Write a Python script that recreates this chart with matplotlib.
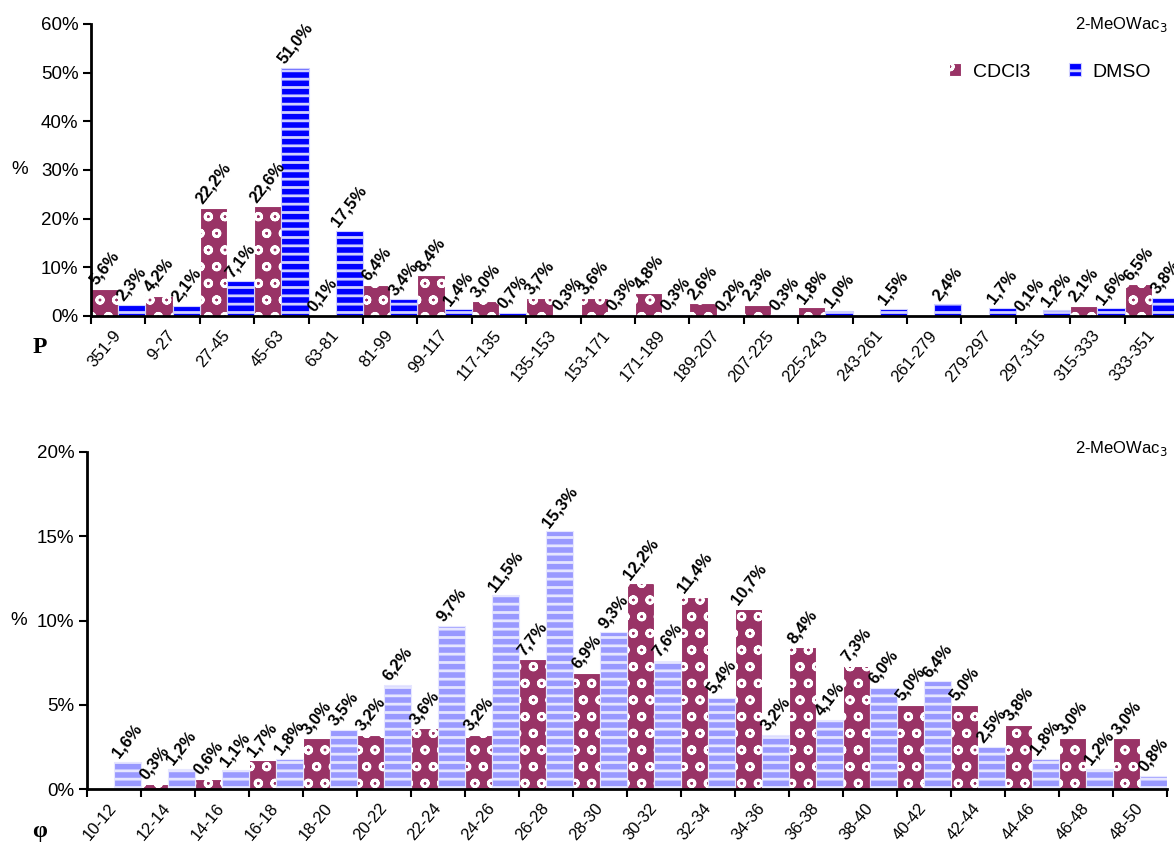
import numpy as np
import matplotlib.pyplot as plt

plt.rcParams['font.family'] = ['Liberation Sans', 'DejaVu Sans']
plt.rcParams['hatch.linewidth'] = 2.0

p_labels = ["351-9", "9-27", "27-45", "45-63", "63-81", "81-99", "99-117",
            "117-135", "135-153", "153-171", "171-189", "189-207", "207-225",
            "225-243", "243-261", "261-279", "279-297", "297-315", "315-333",
            "333-351"]
p_cdcl3 = [5.6, 4.2, 22.2, 22.6, 0.1, 6.4, 8.4, 3.0, 3.7, 3.6, 4.8, 2.6, 2.3,
           1.8, np.nan, np.nan, np.nan, 0.1, 2.1, 6.5]
p_dmso = [2.3, 2.1, 7.1, 51.0, 17.5, 3.4, 1.4, 0.7, 0.3, 0.3, 0.3, 0.2, 0.3,
          1.0, 1.5, 2.4, 1.7, 1.2, 1.6, 3.8]

phi_labels = ["10-12", "12-14", "14-16", "16-18", "18-20", "20-22", "22-24",
              "24-26", "26-28", "28-30", "30-32", "32-34", "34-36", "36-38",
              "38-40", "40-42", "42-44", "44-46", "46-48", "48-50"]
phi_cdcl3 = [np.nan, 0.3, 0.6, 1.7, 3.0, 3.2, 3.6, 3.2, 7.7, 6.9, 12.2, 11.4,
             10.7, 8.4, 7.3, 5.0, 5.0, 3.8, 3.0, 3.0]
phi_dmso = [1.6, 1.2, 1.1, 1.8, 3.5, 6.2, 9.7, 11.5, 15.3, 9.3, 7.6, 5.4, 3.2,
            4.1, 6.0, 6.4, 2.5, 1.8, 1.2, 0.8]

MAROON = '#993366'
W, H = 1174, 857


def fmt(v):
    return f"{v:.1f}".replace('.', ',') + '%'


def draw(ax, labels, cdcl3, dmso, dmso_color, stripe_color, ymax, ystep, ylab_x):
    n = len(labels)
    x = np.arange(n)
    bc = ax.bar(x + 0.25, cdcl3, width=0.5, color=MAROON, edgecolor='white',
                hatch='o', linewidth=0.8, label='CDCl3')
    bd = ax.bar(x + 0.75, dmso, width=0.5, color=dmso_color,
                edgecolor=stripe_color, hatch='--', linewidth=0.8, label='DMSO')
    for xs, vals in ((x + 0.25, cdcl3), (x + 0.75, dmso)):
        for xi, v in zip(xs, vals):
            if np.isnan(v):
                continue
            ax.text(xi, v + ymax * 0.004, fmt(v), rotation=52, ha='center',
                    va='bottom', fontsize=12, fontweight='bold')
    ax.set_xlim(0, n)
    ax.set_ylim(0, ymax)
    yt = np.arange(0, ymax + 0.01, ystep)
    ax.set_yticks(yt, [f"{t:.0f}%" for t in yt], fontsize=13.5)
    ax.set_xticks(np.arange(n + 1), [''] * (n + 1))
    ax.set_xticks(x + 0.5, labels, minor=True, rotation=50, ha='right',
                  va='center', rotation_mode='anchor', fontsize=12)
    ax.tick_params(axis='x', which='minor', length=0, pad=12)
    ax.tick_params(axis='both', which='major', length=6, width=1.5,
                   direction='out', pad=3)
    for s in ('top', 'right'):
        ax.spines[s].set_visible(False)
    for s in ('left', 'bottom'):
        ax.spines[s].set_linewidth(2)
    ax.set_ylabel('%', rotation=0, fontsize=13.5, va='center', ha='center')
    ax.yaxis.set_label_coords(ylab_x, 0.5)
    return bc, bd


fig = plt.figure(figsize=(W / 100, H / 100), dpi=100)

ax1 = fig.add_axes([91 / W, 1 - 316 / H, 1088 / W, 292 / H])
h1 = draw(ax1, p_labels, p_cdcl3, p_dmso, '#0000FF', '#d0d0ff', 60, 10,
          (20 - 91) / 1088)
ax1.legend(handles=list(h1), loc='center', bbox_to_anchor=(1050 / W, 1 - 72 / H),
           bbox_transform=fig.transFigure, ncol=2, frameon=False, fontsize=14,
           handlelength=0.6, handleheight=0.6, handletextpad=0.6,
           columnspacing=2.0)
fig.text(1168 / W, 1 - 25 / H, '2-MeOWac$_3$', ha='right', va='center',
         fontsize=12)
fig.text(40 / W, 1 - 347 / H, 'P', ha='center', va='center', fontsize=17,
         fontweight='bold', family=['Liberation Serif', 'DejaVu Serif'])

ax2 = fig.add_axes([87 / W, 1 - 789 / H, 1080 / W, 337 / H])
draw(ax2, phi_labels, phi_cdcl3, phi_dmso, '#9999FF', '#e6e6ff', 20, 5,
     (19 - 87) / 1080)
fig.text(1168 / W, 1 - 449 / H, '2-MeOWac$_3$', ha='right', va='center',
         fontsize=12)
fig.text(40 / W, 1 - 832 / H, 'φ', ha='center', va='center', fontsize=17,
         fontweight='bold', family=['Liberation Serif', 'DejaVu Serif'])

fig.savefig('out.png', dpi=100)
